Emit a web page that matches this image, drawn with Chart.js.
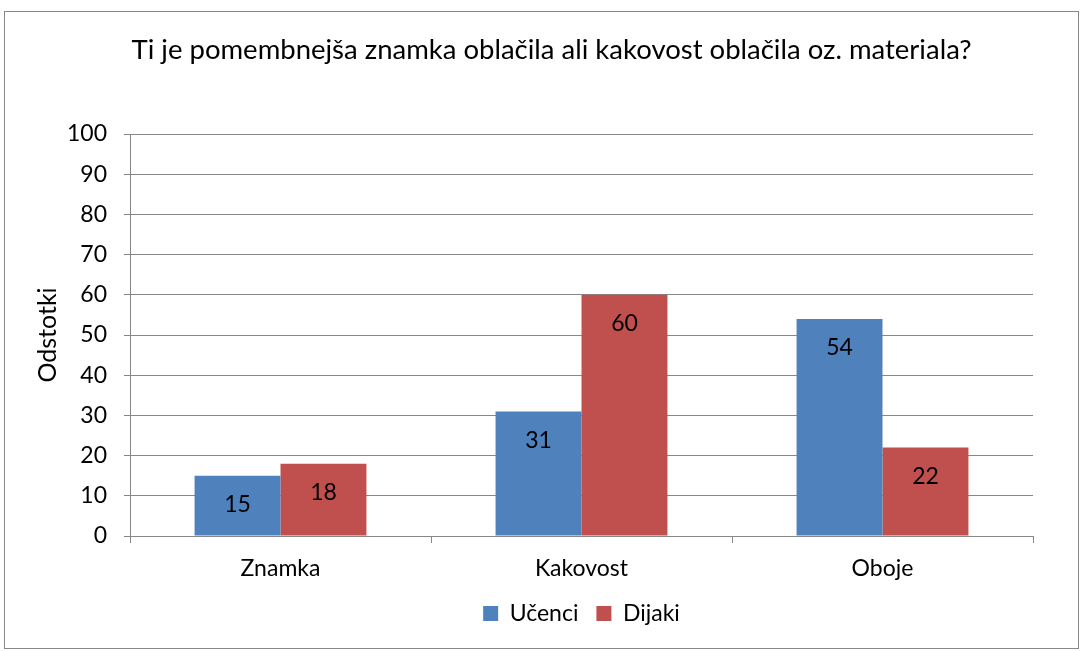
<!DOCTYPE html>
<html>
<head>
<meta charset="utf-8">
<script src="https://cdn.jsdelivr.net/npm/chart.js"></script>
<style>
    html, body { margin: 0; padding: 0; background: #fff; }
    #wrap {
        position: absolute;
        left: 4px; top: 11px;
        width: 1075px; height: 638px;
        box-sizing: border-box;
        border: 1px solid #888;
        background: #fff;
    }
</style>
</head>
<body>
<div id="wrap"><canvas id="surveyChart" width="1073" height="636"></canvas></div>
<script>
// Data
const categories = ['Znamka', 'Kakovost', 'Oboje'];
const ucenci = [15, 31, 54];
const dijaki = [18, 60, 22];
const yTicks = [0, 10, 20, 30, 40, 50, 60, 70, 80, 90, 100];

const FONT = 'Lato, "Open Sans", sans-serif';
const GRID = '#878787';

// Value labels drawn inside the top of each bar
const barLabels = {
    id: 'barLabels',
    afterDatasetsDraw(chart) {
        const ctx = chart.ctx;
        ctx.save();
        ctx.font = '23px ' + FONT;
        ctx.fillStyle = '#000';
        ctx.textAlign = 'center';
        ctx.textBaseline = 'middle';
        chart.data.datasets.forEach((ds, i) => {
            chart.getDatasetMeta(i).data.forEach((bar, j) => {
                ctx.fillText(ds.data[j], bar.x, bar.y + 29);
            });
        });
        ctx.restore();
    }
};

function initChart() {
    const ctx = document.getElementById('surveyChart').getContext('2d');
    return new Chart(ctx, {
        type: 'bar',
        data: {
            labels: categories,
            datasets: [{
                label: 'Učenci',
                data: ucenci,
                backgroundColor: '#4F81BD',
                categoryPercentage: 0.571,
                barPercentage: 1
            }, {
                label: 'Dijaki',
                data: dijaki,
                backgroundColor: '#C0504D',
                categoryPercentage: 0.571,
                barPercentage: 1
            }]
        },
        options: {
            responsive: false,
            animation: false,
            layout: {
                padding: { left: 20, right: 0, top: 22, bottom: 13 }
            },
            scales: {
                x: {
                    grid: {
                        drawOnChartArea: false,
                        drawTicks: true,
                        tickLength: 7,
                        color: GRID
                    },
                    border: { color: GRID, width: 1 },
                    ticks: {
                        color: '#000',
                        padding: 12,
                        font: { family: FONT, size: 23 }
                    },
                    afterFit: scale => { scale.height = 48; }
                },
                y: {
                    min: 0,
                    max: 100,
                    afterBuildTicks: scale => {
                        scale.ticks = yTicks.map(v => ({ value: v }));
                    },
                    grid: {
                        color: GRID,
                        tickLength: 6
                    },
                    border: { color: GRID, width: 1 },
                    ticks: {
                        color: '#000',
                        padding: 17,
                        font: { family: FONT, size: 23 }
                    },
                    title: {
                        display: true,
                        text: 'Odstotki',
                        color: '#000',
                        padding: { top: 8, bottom: 0 },
                        font: { family: FONT, size: 25 }
                    },
                    afterFit: scale => { scale.width = 105; }
                },
                // empty right-hand spacer so the plot ends where the original does
                spacer: {
                    type: 'linear',
                    position: 'right',
                    grid: { display: false },
                    border: { display: false },
                    ticks: { display: false },
                    afterFit: scale => { scale.width = 45; }
                }
            },
            plugins: {
                title: {
                    display: true,
                    text: 'Ti je pomembnejša znamka oblačila ali kakovost oblačila oz. materiala?',
                    color: '#000',
                    padding: { top: 0, bottom: 67 },
                    font: { family: FONT, size: 27.5, weight: 'normal' }
                },
                legend: {
                    position: 'bottom',
                    fullSize: false,
                    labels: {
                        color: '#000',
                        boxWidth: 15,
                        boxHeight: 15,
                        padding: 18,
                        font: { family: FONT, size: 23 }
                    }
                },
                tooltip: { enabled: false }
            }
        },
        plugins: [barLabels]
    });
}

initChart();
</script>
</body>
</html>
